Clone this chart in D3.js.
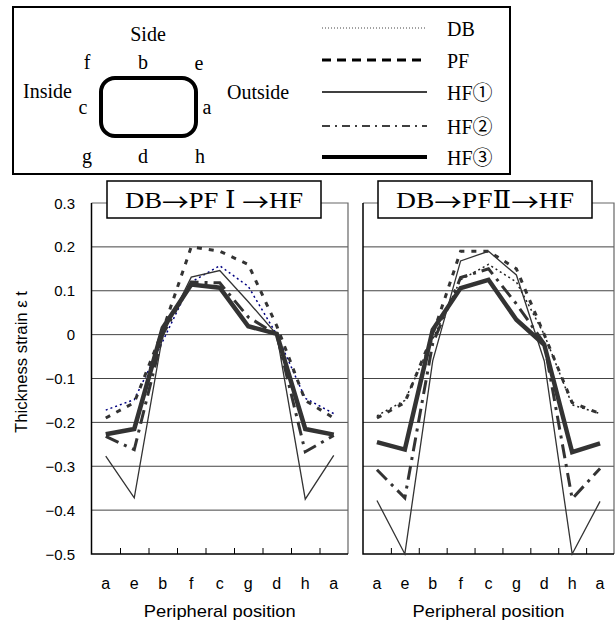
<!DOCTYPE html>
<html>
<head>
<meta charset="utf-8">
<script src="https://cdn.jsdelivr.net/npm/d3@7"></script>
<style>
  body { margin: 0; background: #fff; }
  .serif { font-family: "Liberation Serif", "DejaVu Serif", "Noto Sans CJK JP", serif; }
  .sans { font-family: "Liberation Sans", Arial, "Noto Sans CJK JP", sans-serif; }
  .cjk { font-family: "Noto Sans CJK JP", sans-serif; }
</style>
</head>
<body>
<svg id="chart" width="616" height="624"></svg>
<script>
// peripheral positions along the section (a .. a round trip)
var positions = ["a", "e", "b", "f", "c", "g", "d", "h", "a"];
var yTicks = [0.3, 0.2, 0.1, 0, -0.1, -0.2, -0.3, -0.4, -0.5];
var gridValues = [0.2, 0.1, 0, -0.1, -0.2, -0.3, -0.4];

// DB -> PF I -> HF
var dbI  = [-0.172, -0.148, -0.015, 0.12, 0.157, 0.11, 0.0, -0.145, -0.18];
var pfI  = [-0.19, -0.155, 0.01, 0.2, 0.19, 0.16, 0.02, -0.15, -0.19];
var hf1I = [-0.277, -0.372, 0.0, 0.131, 0.146, 0.075, 0.0, -0.375, -0.275];
var hf2I = [-0.232, -0.262, 0.0, 0.12, 0.118, 0.04, 0.0, -0.267, -0.23];
var hf3I = [-0.227, -0.215, 0.015, 0.114, 0.107, 0.019, 0.002, -0.215, -0.228];

// DB -> PF II -> HF
var dbII  = [-0.185, -0.15, -0.01, 0.125, 0.16, 0.12, 0.0, -0.16, -0.18];
var pfII  = [-0.19, -0.155, 0.0, 0.19, 0.19, 0.15, 0.0, -0.155, -0.18];
var hf1II = [-0.378, -0.5, -0.06, 0.168, 0.19, 0.136, -0.06, -0.5, -0.38];
var hf2II = [-0.308, -0.372, -0.02, 0.13, 0.15, 0.07, -0.02, -0.374, -0.305];
var hf3II = [-0.245, -0.262, 0.011, 0.106, 0.125, 0.034, -0.023, -0.268, -0.248];

var legendNames = ["DB", "PF", "HF①", "HF②", "HF③"];

var styles = {
  DB:  {width: 1.5, dash: "2,3", color: "#222"},
  PF:  {width: 3, dash: "5,7", color: "#333"},
  HF1: {width: 1.3, dash: null, color: "#333"},
  HF2: {width: 3, dash: "14,6,3,6", color: "#333"},
  HF3: {width: 4.5, dash: null, color: "#333"}
};

var svg = d3.select("#chart");
svg.append("rect").attr("width", 616).attr("height", 624).attr("fill", "#fff");

var y = d3.scaleLinear().domain([-0.5, 0.3]).range([554, 203]);

// ---------- legend box ----------
var lg = svg.append("g");
lg.append("rect")
  .attr("x", 13).attr("y", 7).attr("width", 497).attr("height", 167)
  .attr("fill", "none").attr("stroke", "#000").attr("stroke-width", 2);

var lgText = [
  {t: "Side", x: 148, y: 34, a: "middle"},
  {t: "f", x: 87, y: 62, a: "middle"},
  {t: "b", x: 143, y: 62, a: "middle"},
  {t: "e", x: 199, y: 63, a: "middle"},
  {t: "Inside", x: 23, y: 91, a: "start"},
  {t: "c", x: 83, y: 107, a: "middle"},
  {t: "a", x: 207, y: 107, a: "middle"},
  {t: "Outside", x: 227, y: 92, a: "start"},
  {t: "g", x: 87, y: 156, a: "middle"},
  {t: "d", x: 143, y: 156, a: "middle"},
  {t: "h", x: 200, y: 156, a: "middle"}
];
lg.selectAll("text.pos")
  .data(lgText)
  .enter().append("text")
  .attr("class", "serif")
  .attr("x", function(d) { return d.x; })
  .attr("y", function(d) { return d.y; })
  .attr("text-anchor", function(d) { return d.a; })
  .attr("dominant-baseline", "central")
  .attr("font-size", 20)
  .text(function(d) { return d.t; });

lg.append("rect")
  .attr("x", 101).attr("y", 78).attr("width", 95).attr("height", 58)
  .attr("rx", 14).attr("ry", 14)
  .attr("fill", "none").attr("stroke", "#000").attr("stroke-width", 4);

var legendStyle = [
  {width: 1, dash: "1,2", color: "#444"},
  {width: 3, dash: "9,6", color: "#000"},
  {width: 1.5, dash: null, color: "#000"},
  {width: 1.5, dash: "8,5,2,5", color: "#000"},
  {width: 4, dash: null, color: "#000"}
];
var legendY = [28, 60, 92, 126, 157];

legendNames.forEach(function(name, i) {
  lg.append("line")
    .attr("x1", 322).attr("x2", 427)
    .attr("y1", legendY[i]).attr("y2", legendY[i])
    .attr("stroke", legendStyle[i].color)
    .attr("stroke-width", legendStyle[i].width)
    .attr("stroke-dasharray", legendStyle[i].dash);
  lg.append("text")
    .attr("class", "serif")
    .attr("x", 447).attr("y", legendY[i] + 1)
    .attr("dominant-baseline", "central")
    .attr("font-size", 20)
    .text(name);
});

// ---------- panels ----------
function drawPanel(x0, x1, titleParts, titleBox, series, dbColor, showYAxis) {
  var x = d3.scaleBand().domain(d3.range(positions.length)).range([x0, x1]);
  var g = svg.append("g");

  // grid
  g.selectAll("line.grid")
    .data(gridValues)
    .enter().append("line")
    .attr("x1", x0).attr("x2", x1)
    .attr("y1", function(d) { return y(d); })
    .attr("y2", function(d) { return y(d); })
    .attr("stroke", "#444").attr("stroke-width", 1);

  // frame top / right (gray)
  g.append("path")
    .attr("d", "M" + x0 + "," + y(0.3) + "H" + x1 + "V" + y(-0.5))
    .attr("fill", "none").attr("stroke", "#666").attr("stroke-width", 1.2);

  // bottom ticks between positions
  var xa = g.append("g")
    .attr("transform", "translate(0," + y(-0.5) + ")")
    .call(d3.axisTop(d3.scaleLinear().domain([0, 9]).range([x0, x1]))
      .tickValues(d3.range(1, 9)).tickSize(6).tickFormat(""));
  xa.select(".domain").remove();
  xa.selectAll("line").attr("stroke", "#000").attr("stroke-width", 1);

  g.append("path")
    .attr("d", "M" + x0 + "," + y(0.3) + "V" + y(-0.5) + "H" + x1)
    .attr("fill", "none").attr("stroke", "#000").attr("stroke-width", 1.5);

  // category labels
  g.selectAll("text.cat")
    .data(positions)
    .enter().append("text")
    .attr("class", "sans")
    .attr("x", function(d, i) { return x(i) + x.bandwidth() / 2; })
    .attr("y", 583)
    .attr("text-anchor", "middle")
    .attr("dominant-baseline", "central")
    .attr("font-size", 16)
    .text(function(d) { return d; });

  g.append("text")
    .attr("class", "sans")
    .attr("x", (x0 + x1) / 2).attr("y", 611)
    .attr("text-anchor", "middle")
    .attr("dominant-baseline", "central")
    .attr("font-size", 17)
    .attr("textLength", 152)
    .attr("lengthAdjust", "spacingAndGlyphs")
    .text("Peripheral position");

  if (showYAxis) {
    g.selectAll("text.ytick")
      .data(yTicks)
      .enter().append("text")
      .attr("class", "sans")
      .attr("x", 75)
      .attr("y", function(d) { return y(d); })
      .attr("text-anchor", "end")
      .attr("dominant-baseline", "central")
      .attr("font-size", 15)
      .text(function(d) { return d === 0 ? "0" : d3.format(".1f")(d).replace("-", "−"); });
  }

  // series
  var line = d3.line()
    .x(function(d, i) { return x(i) + x.bandwidth() / 2; })
    .y(function(d) { return y(d); });

  series.forEach(function(s) {
    var st = styles[s.key];
    g.append("path")
      .datum(s.values)
      .attr("d", line)
      .attr("fill", "none")
      .attr("stroke", s.key === "DB" ? dbColor : st.color)
      .attr("stroke-width", st.width)
      .attr("stroke-dasharray", st.dash)
      .attr("stroke-linejoin", "miter");
  });

  // title box
  g.append("rect")
    .attr("x", titleBox[0]).attr("y", 181)
    .attr("width", titleBox[1] - titleBox[0]).attr("height", 37)
    .attr("fill", "#fff").attr("stroke", "#000").attr("stroke-width", 1.5);
  var tt = g.append("text")
    .attr("class", "serif")
    .attr("x", (titleBox[0] + titleBox[1]) / 2).attr("y", 200)
    .attr("text-anchor", "middle")
    .attr("dominant-baseline", "central")
    .attr("font-size", 24)
    .attr("textLength", 178)
    .attr("lengthAdjust", "spacingAndGlyphs");
  titleParts.forEach(function(p) {
    tt.append("tspan")
      .attr("class", p === "→" ? "cjk" : null)
      .text(p);
  });
}

drawPanel(91.5, 348, ["DB", "→", "PF Ⅰ ", "→", "HF"], [107, 321], [
  {key: "DB", values: dbI},
  {key: "PF", values: pfI},
  {key: "HF1", values: hf1I},
  {key: "HF2", values: hf2I},
  {key: "HF3", values: hf3I}
], "#000080", true);

drawPanel(363, 614, ["DB", "→", "PFⅡ", "→", "HF"], [378, 592], [
  {key: "DB", values: dbII},
  {key: "PF", values: pfII},
  {key: "HF1", values: hf1II},
  {key: "HF2", values: hf2II},
  {key: "HF3", values: hf3II}
], "#222", false);

// y axis title
svg.append("text")
  .attr("class", "sans")
  .attr("transform", "translate(21,362) rotate(-90)")
  .attr("text-anchor", "middle")
  .attr("dominant-baseline", "central")
  .attr("font-size", 16)
  .attr("textLength", 142)
  .attr("lengthAdjust", "spacingAndGlyphs")
  .text("Thickness strain  ε t");
</script>
</body>
</html>
